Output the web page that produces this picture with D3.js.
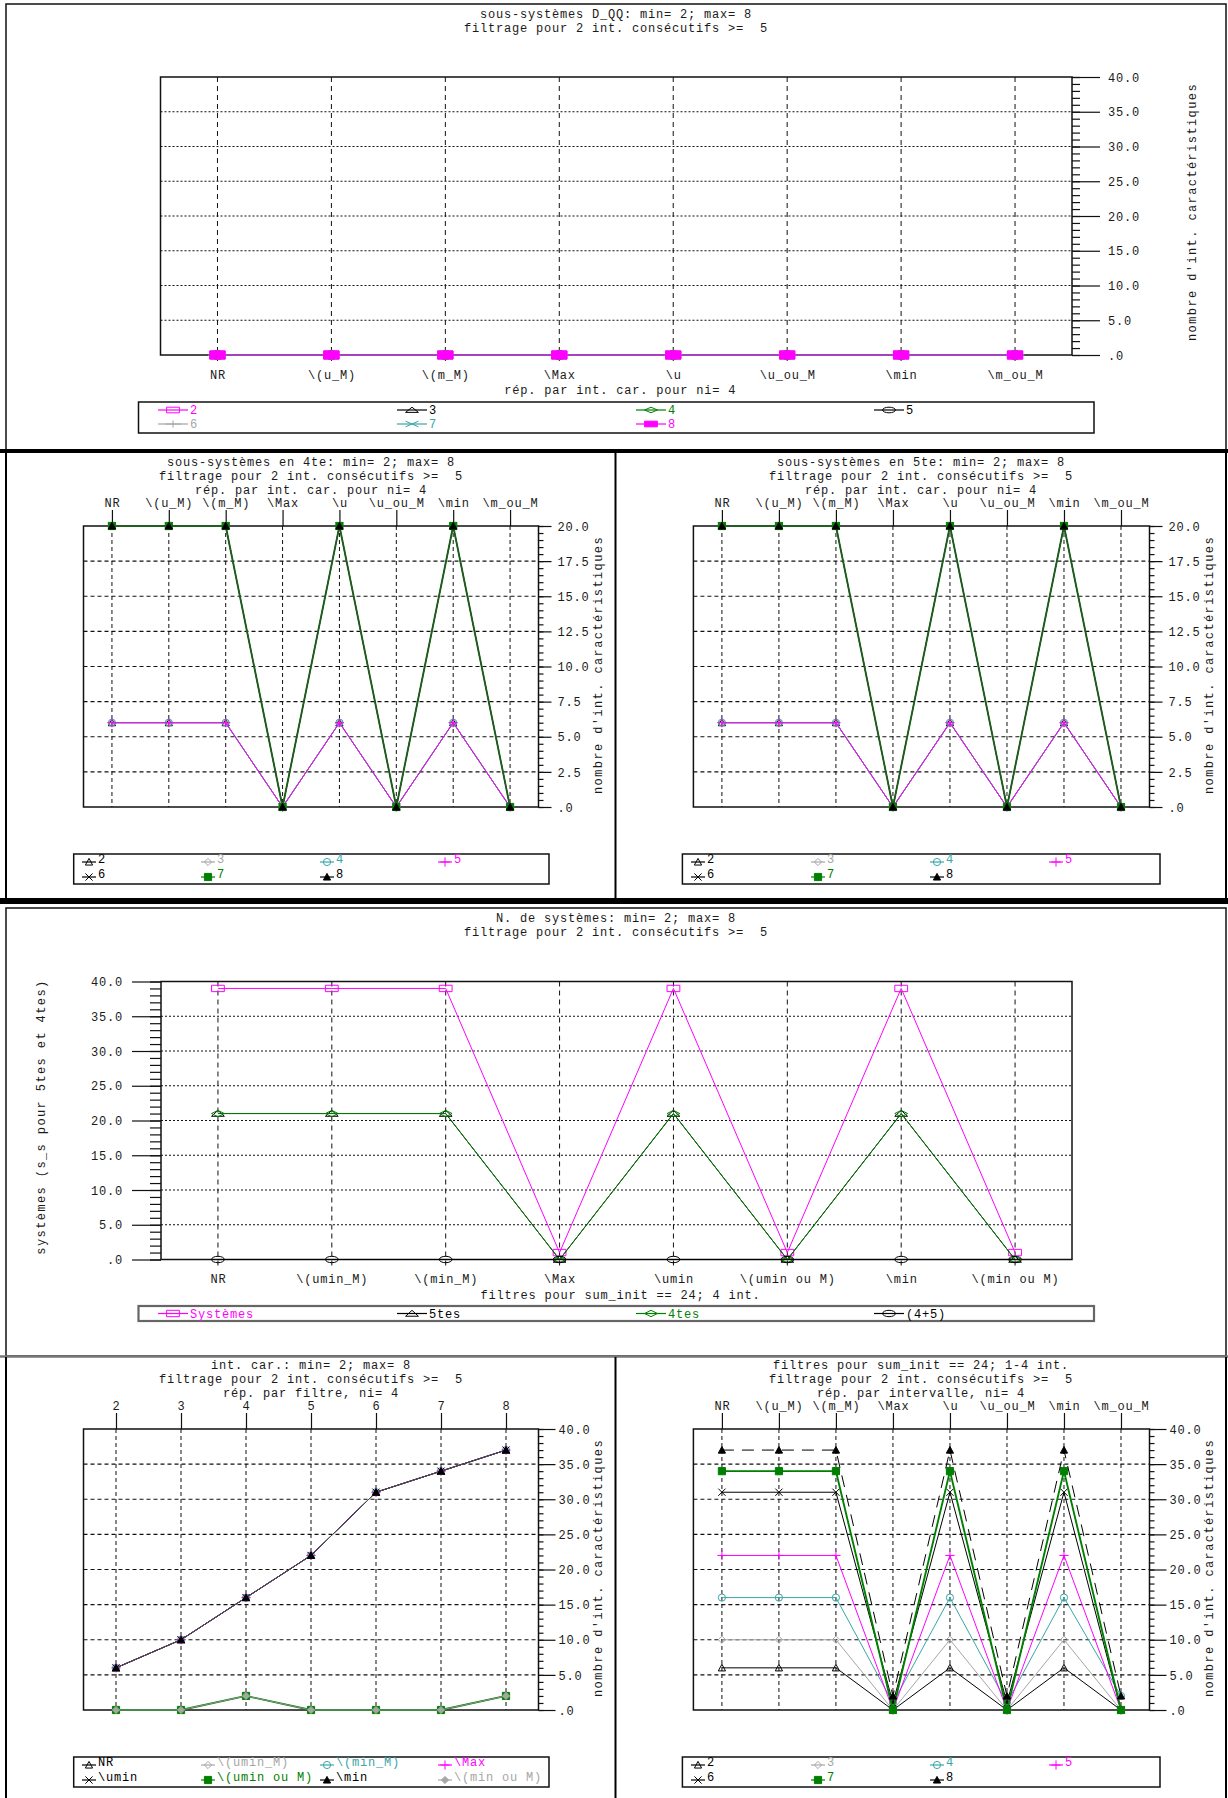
<!DOCTYPE html>
<html><head><meta charset="utf-8">
<script src="https://cdn.jsdelivr.net/npm/d3@7"></script>
<style>
body{margin:0;background:#fff}
text{font-family:"Liberation Mono","DejaVu Sans Mono",monospace;font-size:12px;letter-spacing:0.8px;fill:#1a1a1a;white-space:pre}
text.ytitle{letter-spacing:1.4px}
</style>
</head><body>
<svg id="c" width="1228" height="1798"></svg>
<script>
// ---------------- DATA ----------------
const catsIntCar = ["NR","\\(u_M)","\\(m_M)","\\Max","\\u","\\u_ou_M","\\min","\\m_ou_M"];
const catsSumInit = ["NR","\\(umin_M)","\\(min_M)","\\Max","\\umin","\\(umin ou M)","\\min","\\(min ou M)"];
const niValues = ["2","3","4","5","6","7","8"];
const seriesLabels = ["2","3","4","5","6","7","8"];
const sysLabels = ["Systèmes","5tes","4tes","(4+5)"];
const filtreLabels = ["NR","\\(umin_M)","\\(min_M)","\\Max","\\umin","\\(umin ou M)","\\min","\\(min ou M)"];

// Panel 1 : sous-systèmes D_QQ
const dqq2 = [0,0,0,0,0,0,0,0];
const dqq3 = [0,0,0,0,0,0,0,0];
const dqq4 = [0,0,0,0,0,0,0,0];
const dqq5 = [0,0,0,0,0,0,0,0];
const dqq6 = [0,0,0,0,0,0,0,0];
const dqq7 = [0,0,0,0,0,0,0,0];
const dqq8 = [0,0,0,0,0,0,0,0];

// Panel 2 : sous-systèmes en 4te
const q4_2 = [6,6,6,0,6,0,6,0];
const q4_3 = [6,6,6,0,6,0,6,0];
const q4_4 = [6,6,6,0,6,0,6,0];
const q4_5 = [6,6,6,0,6,0,6,0];
const q4_6 = [20,20,20,0,20,0,20,0];
const q4_7 = [20,20,20,0,20,0,20,0];
const q4_8 = [20,20,20,0,20,0,20,0];

// Panel 3 : sous-systèmes en 5te
const q5_2 = [6,6,6,0,6,0,6,0];
const q5_3 = [6,6,6,0,6,0,6,0];
const q5_4 = [6,6,6,0,6,0,6,0];
const q5_5 = [6,6,6,0,6,0,6,0];
const q5_6 = [20,20,20,0,20,0,20,0];
const q5_7 = [20,20,20,0,20,0,20,0];
const q5_8 = [20,20,20,0,20,0,20,0];

// Panel 4 : N. de systèmes
const systemes = [39,39,39,1,39,1,39,1];
const quintes  = [21,21,21,0,21,0,21,0];
const quartes  = [21,21,21,0,21,0,21,0];
const somme45  = [0,0,0,0,0,0,0,0];

// Panel 5 : int. car. par filtre
const fNR       = [6,10,16,22,31,34,37];
const fUminM    = [6,10,16,22,31,34,37];
const fMinM     = [6,10,16,22,31,34,37];
const fMax      = [6,10,16,22,31,34,37];
const fUmin     = [6,10,16,22,31,34,37];
const fUminOuM  = [0,0,2,0,0,0,2];
const fMin      = [6,10,16,22,31,34,37];
const fMinOuM   = [0,0,2,0,0,0,2];

// Panel 6 : par intervalle
const iv2 = [6,6,6,0,6,0,6,0];
const iv3 = [10,10,10,0,10,0,10,0];
const iv4 = [16,16,16,1,16,1,16,2];
const iv5 = [22,22,22,0,22,0,22,0];
const iv6 = [31,31,31,1,31,1,31,0];
const iv7 = [34,34,34,0,34,0,34,0];
const iv8 = [37,37,37,2,37,2,37,2];

// ---------------- STYLES ----------------
const MAG="#ff00ff", GRN="#008000", TEAL="#3aa6a6", GRY="#a6a6a6", BLK="#000000", DGR="#404040";
const styleA = [
  {c:MAG, m:"square"}, {c:BLK, m:"triangle"}, {c:GRN, m:"diamond"}, {c:BLK, m:"circle"},
  {c:GRY, m:"plus"}, {c:TEAL, m:"x"}, {c:MAG, m:"fsquare"}];
const styleB = [
  {c:BLK, m:"triangle"}, {c:GRY, m:"diamond"}, {c:TEAL, m:"circle"}, {c:MAG, m:"plus"},
  {c:BLK, m:"x"}, {c:GRN, m:"fsquare", w:1.9}, {c:BLK, lc:DGR, m:"ftriangle"}];
const styleB6 = styleB.map((s,i)=> i===6 ? Object.assign({}, s, {dash:"12,8", lc:BLK}) : s);
const styleC = [
  {c:BLK, m:"triangle"}, {c:GRY, m:"diamond"}, {c:TEAL, m:"circle"}, {c:MAG, m:"plus"},
  {c:BLK, m:"x"}, {c:GRN, m:"fsquare", w:1.8}, {c:BLK, lc:"#555", m:"ftriangle"}, {c:GRY, lc:"#909090", m:"fdiamond"}];
const styleS = [{c:MAG, m:"square"}, {c:BLK, m:"triangle"}, {c:GRN, m:"diamond"}, {c:BLK, m:"circle"}];

// ---------------- HELPERS ----------------
const svg = d3.select("#c");

function markerPath(t, r) {
  switch (t) {
    case "square": case "fsquare": return `M${-r},${-r}H${r}V${r}H${-r}Z`;
    case "triangle": case "ftriangle": return `M0,${-r}L${r},${r*0.85}L${-r},${r*0.85}Z`;
    case "diamond": case "fdiamond": return `M0,${-r}L${r},0L0,${r}L${-r},0Z`;
    case "circle": return `M${r},0A${r},${r} 0 1,1 ${-r},0A${r},${r} 0 1,1 ${r},0Z`;
    case "plus": return `M${-r-1},0H${r+1}M0,${-r-1}V${r+1}`;
    case "x": return `M${-r},${-r}L${r},${r}M${r},${-r}L${-r},${r}`;
  }
}
function drawMarker(g, st, x, y, r, sx, sy) {
  const filled = st.m.startsWith("f");
  g.append("path").attr("d", markerPath(st.m, r))
    .attr("transform", `translate(${x},${y}) scale(${sx},${sy})`)
    .attr("fill", filled ? st.c : "none")
    .attr("stroke", st.c).attr("stroke-width", 1)
    .attr("vector-effect", "non-scaling-stroke");
}
const fmt = v => { const s = d3.format(".1f")(v); return s === "0.0" ? ".0" : s; };

function drawPanel(cfg) {
  const g = svg.append("g");
  const x = d3.scalePoint().domain(cfg.cats).range([cfg.x0, cfg.x1]).padding(0.5);
  const y = d3.scaleLinear().domain([0, cfg.ymax]).range([cfg.y1, cfg.y0]);
  const majors = d3.range(0, cfg.ymax + 1e-9, cfg.major);
  const minors = d3.range(0, cfg.ymax + 1e-9, cfg.minor);

  g.selectAll(null).data(majors.filter(v => v > 0 && v < cfg.ymax)).join("line")
    .attr("x1", cfg.x0).attr("x2", cfg.x1).attr("y1", d => y(d)).attr("y2", d => y(d))
    .attr("stroke", "#111").attr("stroke-width", 1.2).attr("stroke-dasharray", cfg.hdash);
  g.selectAll(null).data(cfg.cats).join("line")
    .attr("x1", d => x(d)).attr("x2", d => x(d))
    .attr("y1", cfg.y0).attr("y2", cfg.y1 + (cfg.bottomLabels ? 6 : 0))
    .attr("stroke", "#111").attr("stroke-width", 1).attr("stroke-dasharray", cfg.vdash);
  g.append("rect").attr("x", cfg.x0).attr("y", cfg.y0)
    .attr("width", cfg.x1 - cfg.x0).attr("height", cfg.y1 - cfg.y0)
    .attr("fill", "none").attr("stroke", "#111").attr("stroke-width", 1.5);

  const left = cfg.axisSide === "left";
  const ax = left ? d3.axisLeft : d3.axisRight;
  const axG = g.append("g").attr("transform", `translate(${left ? cfg.x0 : cfg.x1},0)`);
  axG.append("g").call(ax(y).tickValues(minors).tickSize(cfg.minLen).tickFormat(""));
  axG.append("g").call(ax(y).tickValues(majors).tickSize(cfg.majLen).tickPadding(cfg.pad).tickFormat(fmt));
  axG.selectAll(".domain").remove();
  axG.selectAll("line").attr("stroke", "#111").attr("stroke-width", 1.2);
  axG.selectAll("text").attr("font-family", null).attr("font-size", null).attr("fill", null)
    .attr("dy", "0.35em");

  if (cfg.bottomLabels) {
    const bx = g.append("g").attr("transform", `translate(0,${cfg.y1})`)
      .call(d3.axisBottom(x).tickSize(0).tickPadding(15));
    bx.selectAll(".domain").remove();
    bx.selectAll("text").attr("font-family", null).attr("font-size", null).attr("fill", null);
    g.append("text").attr("x", (cfg.x0 + cfg.x1) / 2 + 4).attr("y", cfg.y1 + 35)
      .attr("text-anchor", "middle").attr("dy", "0.35em").text(cfg.xTitle);
  } else {
    const tx = g.append("g").attr("transform", `translate(0,${cfg.y0})`)
      .call(d3.axisTop(x).tickSize(16).tickPadding(3));
    tx.selectAll(".domain").remove();
    tx.selectAll("line").attr("stroke", "#111").attr("stroke-width", 1.2);
    tx.selectAll("text").attr("font-family", null).attr("font-size", null).attr("fill", null);
  }

  cfg.series.forEach((vals, i) => {
    const st = cfg.styles[i];
    const cats = cfg.cats;
    const line = d3.line().x((d, j) => x(cats[j])).y(d => y(d));
    g.append("path").attr("d", line(vals)).attr("fill", "none")
      .attr("stroke", st.lc || st.c).attr("stroke-width", st.w || 1)
      .attr("stroke-dasharray", st.dash || null);
    vals.forEach((v, j) => drawMarker(g, st, x(cats[j]), y(v), cfg.mr, cfg.msx, cfg.msy));
  });

  cfg.titles.forEach((t, k) => {
    g.append("text").attr("x", cfg.tx).attr("y", cfg.ty + k * cfg.tstep)
      .attr("text-anchor", "middle").attr("dy", "0.35em").text(t);
  });
  g.append("text").attr("class", "ytitle").attr("transform", `translate(${cfg.ytx},${cfg.yty}) rotate(-90)`)
    .attr("text-anchor", "middle").attr("dy", "0.35em").text(cfg.yTitle);

  const L = cfg.legend;
  g.append("rect").attr("x", L.x0).attr("y", L.y0).attr("width", L.x1 - L.x0).attr("height", L.y1 - L.y0)
    .attr("fill", "none").attr("stroke", L.stroke || "#111").attr("stroke-width", L.sw || 1.5);
  cfg.legendLabels.forEach((lab, i) => {
    const st = cfg.styles[i];
    const cx = L.cols[i % 4], cy = L.rows[Math.floor(i / 4)];
    g.append("line").attr("x1", cx).attr("x2", cx + L.sym).attr("y1", cy).attr("y2", cy)
      .attr("stroke", st.c).attr("stroke-width", 1.2);
    drawMarker(g, st, cx + L.sym / 2, cy, L.mr || cfg.mr, L.msx || cfg.msx, L.msy || cfg.msy);
    g.append("text").attr("x", cx + L.sym + 2).attr("y", cy - (L.lift || 0)).attr("dy", "0.35em")
      .style("fill", st.c).text(lab);
  });
}

// ---------------- FRAMES ----------------
function frame() {
  const f = svg.append("g");
  f.append("rect").attr("x", 6).attr("y", 4).attr("width", 1220).attr("height", 446)
    .attr("fill", "none").attr("stroke", "#111").attr("stroke-width", 1.5);
  f.append("rect").attr("x", 0).attr("y", 449).attr("width", 1228).attr("height", 4).attr("fill", "#000");
  f.append("line").attr("x1", 6).attr("x2", 6).attr("y1", 452).attr("y2", 900).attr("stroke", "#000").attr("stroke-width", 2);
  f.append("line").attr("x1", 1226).attr("x2", 1226).attr("y1", 452).attr("y2", 900).attr("stroke", "#000").attr("stroke-width", 2);
  f.append("line").attr("x1", 615.5).attr("x2", 615.5).attr("y1", 452).attr("y2", 900).attr("stroke", "#000").attr("stroke-width", 2);
  f.append("rect").attr("x", 0).attr("y", 898).attr("width", 1228).attr("height", 6).attr("fill", "#000");
  f.append("rect").attr("x", 6).attr("y", 908).attr("width", 1220).attr("height", 448)
    .attr("fill", "none").attr("stroke", "#111").attr("stroke-width", 1.5);
  f.append("line").attr("x1", 0).attr("x2", 1228).attr("y1", 1356.5).attr("y2", 1356.5).attr("stroke", "#777").attr("stroke-width", 2.5);
  f.append("line").attr("x1", 6).attr("x2", 6).attr("y1", 1357).attr("y2", 1798).attr("stroke", "#000").attr("stroke-width", 2);
  f.append("line").attr("x1", 1226).attr("x2", 1226).attr("y1", 1357).attr("y2", 1798).attr("stroke", "#000").attr("stroke-width", 2);
  f.append("line").attr("x1", 615.5).attr("x2", 615.5).attr("y1", 1357).attr("y2", 1798).attr("stroke", "#000").attr("stroke-width", 2);
}
frame();

const T2 = "filtrage pour 2 int. consécutifs >=  5";
const yTitleInt = "nombre d'int. caractéristiques";
const legWide = {x0:138.5, x1:1094, cols:[158,397,636,874], sym:30};
const legL = {x0:73.7, x1:549, cols:[82,201,320,438], sym:14, lift:3};
const legR = {x0:682.4, x1:1160, cols:[691,811,930,1049], sym:14, lift:3};

// Panel 1
drawPanel({
  cats: catsIntCar, x0:160.5, x1:1072, y0:77, y1:355, ymax:40, major:5, minor:1,
  axisSide:"right", minLen:8, majLen:28, pad:8, hdash:"2,2", vdash:"5,4",
  bottomLabels:true, xTitle:"rép. par int. car. pour ni= 4",
  series:[dqq2,dqq3,dqq4,dqq5,dqq6,dqq7,dqq8], styles:styleA,
  mr:4.5, msx:1.7, msy:0.9,
  titles:["sous-systèmes D_QQ: min= 2; max= 8", T2], tx:616, ty:14, tstep:14,
  yTitle:yTitleInt, ytx:1192, yty:212,
  legend:Object.assign({y0:402, y1:433, rows:[410,424], mr:4, msx:1.6, msy:0.7}, legWide), legendLabels:seriesLabels
});

// Panel 2
drawPanel({
  cats: catsIntCar, x0:83.5, x1:538.5, y0:526, y1:807, ymax:20, major:2.5, minor:0.5,
  axisSide:"right", minLen:5, majLen:13, pad:6, hdash:"4,3", vdash:"4,3",
  bottomLabels:false,
  series:[q4_2,q4_3,q4_4,q4_5,q4_6,q4_7,q4_8], styles:styleB,
  mr:3.6, msx:1, msy:1,
  titles:["sous-systèmes en 4te: min= 2; max= 8", T2, "rép. par int. car. pour ni= 4"], tx:311, ty:462, tstep:13.7,
  yTitle:yTitleInt, ytx:598, yty:665,
  legend:Object.assign({y0:854, y1:884, rows:[862,877]}, legL), legendLabels:seriesLabels
});

// Panel 3
drawPanel({
  cats: catsIntCar, x0:693.4, x1:1149.5, y0:526, y1:807, ymax:20, major:2.5, minor:0.5,
  axisSide:"right", minLen:5, majLen:13, pad:6, hdash:"4,3", vdash:"4,3",
  bottomLabels:false,
  series:[q5_2,q5_3,q5_4,q5_5,q5_6,q5_7,q5_8], styles:styleB,
  mr:3.6, msx:1, msy:1,
  titles:["sous-systèmes en 5te: min= 2; max= 8", T2, "rép. par int. car. pour ni= 4"], tx:921, ty:462, tstep:13.7,
  yTitle:yTitleInt, ytx:1209, yty:665,
  legend:Object.assign({y0:854, y1:884, rows:[862,877]}, legR), legendLabels:seriesLabels
});

// Panel 4
drawPanel({
  cats: catsSumInit, x0:161, x1:1072, y0:981.5, y1:1259.5, ymax:40, major:5, minor:1,
  axisSide:"left", minLen:11, majLen:29, pad:9, hdash:"2,2", vdash:"5,4",
  bottomLabels:true, xTitle:"filtres pour sum_init == 24; 4 int.",
  series:[systemes,quintes,quartes,somme45], styles:styleS,
  mr:4, msx:1.6, msy:0.8,
  titles:["N. de systèmes: min= 2; max= 8", T2], tx:616, ty:918, tstep:14,
  yTitle:"systèmes (s_s pour 5tes et 4tes)", ytx:41, yty:1117,
  legend:Object.assign({y0:1306, y1:1321, rows:[1313.5], stroke:"#666", sw:2.2}, legWide), legendLabels:sysLabels
});

// Panel 5
drawPanel({
  cats: niValues, x0:83.5, x1:538.5, y0:1429, y1:1710, ymax:40, major:5, minor:1,
  axisSide:"right", minLen:5, majLen:17, pad:3, hdash:"4,3", vdash:"4,3",
  bottomLabels:false,
  series:[fNR,fUminM,fMinM,fMax,fUmin,fUminOuM,fMin,fMinOuM], styles:styleC,
  mr:3.6, msx:1, msy:1,
  titles:["int. car.: min= 2; max= 8", T2, "rép. par filtre, ni= 4"], tx:311, ty:1365, tstep:13.7,
  yTitle:yTitleInt, ytx:598, yty:1568,
  legend:Object.assign({y0:1757, y1:1787, rows:[1765,1780]}, legL), legendLabels:filtreLabels
});

// Panel 6
drawPanel({
  cats: catsIntCar, x0:693.4, x1:1149.5, y0:1429, y1:1710, ymax:40, major:5, minor:1,
  axisSide:"right", minLen:5, majLen:17, pad:3, hdash:"4,3", vdash:"4,3",
  bottomLabels:false,
  series:[iv2,iv3,iv4,iv5,iv6,iv7,iv8], styles:styleB6,
  mr:3.6, msx:1, msy:1,
  titles:["filtres pour sum_init == 24; 1-4 int.", T2, "rép. par intervalle, ni= 4"], tx:921, ty:1365, tstep:13.7,
  yTitle:yTitleInt, ytx:1209, yty:1568,
  legend:Object.assign({y0:1757, y1:1787, rows:[1765,1780]}, legR), legendLabels:seriesLabels
});
</script>
</body></html>
